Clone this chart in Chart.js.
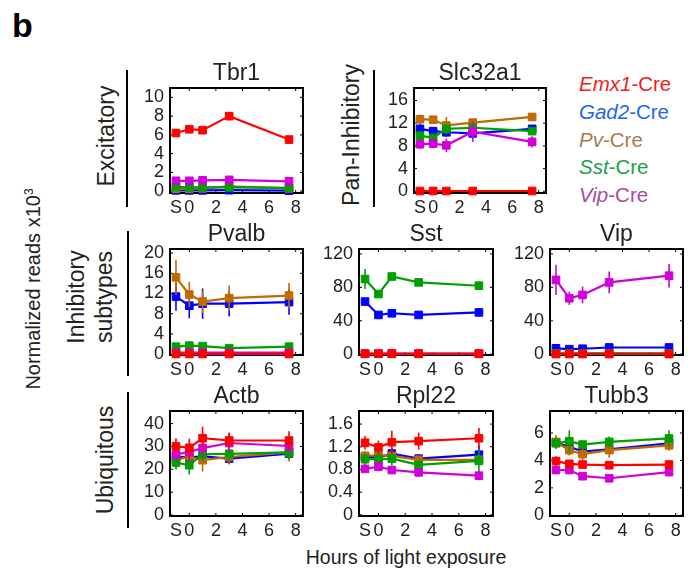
<!DOCTYPE html>
<html><head><meta charset="utf-8">
<script src="https://cdn.jsdelivr.net/npm/chart.js@4"></script>
<style>
body{margin:0;background:#fff;width:698px;height:577px;position:relative;overflow:hidden;font-family:"Liberation Sans",Arial,sans-serif;color:#222}
.p{position:absolute}
.t{position:absolute;white-space:nowrap;line-height:1}
.rot{position:absolute;transform:translate(-50%,-50%) rotate(-90deg);white-space:nowrap;line-height:1}
.bar{position:absolute;width:2px;background:#000}
.lg{position:absolute;left:579px;font-size:20.5px;line-height:1;white-space:nowrap;transform:translateY(-50%)}
</style></head><body>
<div class="t" style="left:12px;top:8px;font-size:34px;font-weight:bold;color:#000">b</div>

<div class="rot" style="left:106px;top:136px;font-size:23px">Excitatory</div>
<div class="bar" style="left:126px;top:70px;height:137px"></div>
<div class="rot" style="left:351px;top:135px;font-size:23px">Pan-Inhibitory</div>
<div class="bar" style="left:373px;top:70px;height:137px"></div>
<div class="rot" style="left:76px;top:297px;font-size:23px">Inhibitory</div>
<div class="rot" style="left:104px;top:297px;font-size:23px">subtypes</div>
<div class="bar" style="left:127px;top:231px;height:145px"></div>
<div class="rot" style="left:105px;top:460px;font-size:23px">Ubiquitous</div>
<div class="bar" style="left:127px;top:392px;height:136px"></div>
<div class="rot" style="left:33px;top:289px;font-size:20px">Normalized reads x10<sup style="font-size:12px">3</sup></div>
<div class="t" style="left:406px;top:558px;font-size:19.5px;transform:translate(-50%,-50%)">Hours of light exposure</div>

<div class="lg" style="top:84px;color:#f21c1c"><i>Emx1</i>-Cre</div>
<div class="lg" style="top:112px;color:#1f66f0"><i>Gad2</i>-Cre</div>
<div class="lg" style="top:140px;color:#a87a50"><i>Pv</i>-Cre</div>
<div class="lg" style="top:167px;color:#1ea04a"><i>Sst</i>-Cre</div>
<div class="lg" style="top:195px;color:#a84c9e"><i>Vip</i>-Cre</div>

<script>
// ---- data ----
const times = [-1, 0, 1, 3, 7.5]; // "S" plotted at -1
const xTickValues = [-1, 0, 2, 4, 6, 8];
const xTickLabels = ['S', '0', '2', '4', '6', '8'];
const lineNames = ['Emx1-Cre', 'Gad2-Cre', 'Pv-Cre', 'Sst-Cre', 'Vip-Cre'];
const lineColors = ['#ff0000', '#0000ff', '#c06a00', '#00a000', '#d000d8'];
const lineOrder = [0, 4, 3, 2, 1]; // lower = drawn on top

const tbr1Ticks = [0, 2, 4, 6, 8, 10];
const tbr1Values = [
  [6.2, 6.6, 6.5, 8.0, 5.5],
  [0.08, 0.08, 0.08, 0.1, 0.05],
  [0.25, 0.25, 0.3, 0.5, 0.3],
  [0.45, 0.4, 0.4, 0.4, 0.35],
  [1.1, 1.1, 1.15, 1.2, 1.05]];
const tbr1Errors = [
  [0.25, 0.2, 0.2, 0.45, 0.2],
  [0.05, 0.05, 0.05, 0.05, 0.05],
  [0.1, 0.1, 0.1, 0.1, 0.1],
  [0.1, 0.1, 0.1, 0.1, 0.1],
  [0.15, 0.15, 0.15, 0.15, 0.15]];

const slc32a1Ticks = [0, 4, 8, 12, 16];
const slc32a1Values = [
  [0.05, 0.05, 0.05, 0.05, 0.05],
  [11.0, 10.6, 10.4, 10.2, 11.0],
  [12.7, 12.6, 11.6, 12.1, 13.1],
  [9.8, 9.4, 11.0, 11.2, 10.6],
  [8.3, 8.4, 8.1, 10.5, 8.7]];
const slc32a1Errors = [
  [0.1, 0.1, 0.1, 0.1, 0.1],
  [0.8, 0.7, 0.8, 0.6, 0.6],
  [0.8, 0.6, 1.5, 0.6, 0.5],
  [0.8, 0.6, 0.8, 0.6, 0.7],
  [0.8, 0.8, 1.2, 1.8, 1.0]];

const pvalbTicks = [0, 4, 8, 12, 16, 20];
const pvalbValues = [
  [0.05, 0.05, 0.05, 0.05, 0.05],
  [11.4, 9.6, 10.0, 10.0, 10.3],
  [15.2, 11.8, 10.4, 11.1, 11.6],
  [1.5, 1.7, 1.6, 1.2, 1.5],
  [0.3, 0.3, 0.3, 0.3, 0.3]];
const pvalbErrors = [
  [0.05, 0.05, 0.05, 0.05, 0.05],
  [2.8, 2.5, 3.0, 2.5, 2.5],
  [3.5, 2.5, 2.2, 2.5, 2.5],
  [0.2, 0.2, 0.2, 0.2, 0.2],
  [0.1, 0.1, 0.1, 0.1, 0.1]];

const sstTicks = [0, 40, 80, 120];
const sstValues = [
  [0.5, 0.5, 0.5, 0.5, 0.5],
  [63, 47, 49, 47, 50],
  [0.5, 0.5, 0.5, 0.5, 0.5],
  [90, 72, 93, 86, 82],
  [0.8, 0.8, 0.8, 0.8, 0.8]];
const sstErrors = [
  [0.3, 0.3, 0.3, 0.3, 0.3],
  [4, 3, 3, 2, 3],
  [0.3, 0.3, 0.3, 0.3, 0.3],
  [12, 4, 4, 4, 5],
  [0.3, 0.3, 0.3, 0.3, 0.3]];

const vipTicks = [0, 40, 80, 120];
const vipValues = [
  [0.3, 0.3, 0.3, 0.3, 0.3],
  [7, 6, 6.5, 8, 8],
  [0.3, 0.3, 0.3, 0.3, 0.3],
  [1, 1, 1, 1, 1],
  [89, 67, 71, 86, 94]];
const vipErrors = [
  [0.3, 0.3, 0.3, 0.3, 0.3],
  [1, 1, 1, 1, 1],
  [0.3, 0.3, 0.3, 0.3, 0.3],
  [0.5, 0.5, 0.5, 0.5, 0.5],
  [18, 8, 10, 13, 14]];

const actbTicks = [0, 10, 20, 30, 40];
const actbValues = [
  [30.1, 29.4, 33.6, 32.6, 32.6],
  [25.5, 25.2, 25.7, 24.7, 26.9],
  [24.0, 25.7, 24.0, 25.4, 27.4],
  [23.0, 21.8, 26.6, 26.8, 27.4],
  [26.5, 27.6, 29.3, 31.5, 30.2]];
const actbErrors = [
  [3.5, 4, 5, 3.5, 4],
  [2.5, 2.5, 2.5, 2.5, 2.5],
  [3.5, 3, 5, 3, 4],
  [3, 4, 3, 3, 3],
  [3, 4, 4, 4, 3]];

const rpl22Ticks = [0, 0.4, 0.8, 1.2, 1.6];
const rpl22Values = [
  [1.27, 1.19, 1.28, 1.30, 1.35],
  [1.02, 1.01, 1.08, 0.99, 1.06],
  [1.04, 1.05, 1.04, 0.97, 0.97],
  [0.98, 0.98, 0.99, 0.88, 0.95],
  [0.81, 0.85, 0.79, 0.75, 0.69]];
const rpl22Errors = [
  [0.12, 0.12, 0.2, 0.15, 0.18],
  [0.08, 0.08, 0.1, 0.08, 0.16],
  [0.08, 0.08, 0.08, 0.08, 0.08],
  [0.1, 0.12, 0.12, 0.08, 0.2],
  [0.05, 0.08, 0.05, 0.08, 0.08]];

const tubb3Ticks = [0, 2, 4, 6];
const tubb3Values = [
  [3.95, 3.75, 3.7, 3.65, 3.7],
  [5.3, 5.0, 4.65, 4.8, 5.25],
  [5.35, 4.75, 4.45, 4.75, 5.1],
  [5.25, 5.4, 5.15, 5.35, 5.6],
  [3.3, 3.3, 2.85, 2.7, 3.15]];
const tubb3Errors = [
  [0.35, 0.2, 0.25, 0.2, 0.2],
  [0.3, 0.3, 0.3, 0.3, 0.3],
  [0.5, 0.4, 0.5, 0.55, 0.4],
  [0.4, 0.8, 0.3, 0.4, 0.6],
  [0.3, 0.3, 0.2, 0.2, 0.3]];

// ---- layout ----
const FONT = '"Liberation Sans", Arial, sans-serif';
const panels = [
  {title:'Tbr1', values:tbr1Values, errors:tbr1Errors, ticks:tbr1Ticks, min:-0.2, max:11, L:170, T:88, R:303, B:193},
  {title:'Slc32a1', values:slc32a1Values, errors:slc32a1Errors, ticks:slc32a1Ticks, min:-0.3, max:18.2, L:414, T:88, R:546, B:193},
  {title:'Pvalb', values:pvalbValues, errors:pvalbErrors, ticks:pvalbTicks, min:-0.15, max:20.8, L:170, T:249, R:303, B:355},
  {title:'Sst', values:sstValues, errors:sstErrors, ticks:sstTicks, min:-1, max:126, L:359, T:249, R:493, B:355},
  {title:'Vip', values:vipValues, errors:vipErrors, ticks:vipTicks, min:-1, max:126, L:550, T:249, R:683, B:355},
  {title:'Actb', values:actbValues, errors:actbErrors, ticks:actbTicks, min:-0.4, max:45.5, L:170, T:411, R:303, B:516},
  {title:'Rpl22', values:rpl22Values, errors:rpl22Errors, ticks:rpl22Ticks, min:-0.02, max:1.83, L:359, T:411, R:493, B:516},
  {title:'Tubb3', values:tubb3Values, errors:tubb3Errors, ticks:tubb3Ticks, min:-0.05, max:7.6, L:550, T:411, R:683, B:516}
];

const boxPlugin = {
  id: 'box',
  beforeDatasetsDraw(chart) {
    const {ctx, chartArea: a, scales: {x, y}} = chart;
    ctx.save();
    ctx.strokeStyle = '#000';
    ctx.lineWidth = 1;
    const tl = 3;
    x.ticks.forEach(t => {
      if (t.value < 0) return;
      const px = x.getPixelForValue(t.value);
      ctx.beginPath();
      ctx.moveTo(px, a.top); ctx.lineTo(px, a.top + tl);
      ctx.moveTo(px, a.bottom); ctx.lineTo(px, a.bottom - tl);
      ctx.stroke();
    });
    y.ticks.forEach(t => {
      const py = y.getPixelForValue(t.value);
      ctx.beginPath();
      ctx.moveTo(a.left, py); ctx.lineTo(a.left + tl, py);
      ctx.moveTo(a.right, py); ctx.lineTo(a.right - tl, py);
      ctx.stroke();
    });
    ctx.lineWidth = 2;
    ctx.strokeRect(a.left, a.top, a.right - a.left, a.bottom - a.top);
    ctx.restore();
  }
};

const errPlugin = {
  id: 'errbars',
  afterDatasetDraw(chart, args) {
    const ds = chart.data.datasets[args.index];
    if (!ds.errors) return;
    const {ctx, scales: {x, y}} = chart;
    ctx.save();
    ctx.strokeStyle = ds.borderColor;
    ctx.lineWidth = 1.6;
    ds.data.forEach((d, i) => {
      const e = ds.errors[i];
      const px = x.getPixelForValue(d.x);
      ctx.beginPath();
      ctx.moveTo(px, y.getPixelForValue(d.y - e));
      ctx.lineTo(px, y.getPixelForValue(d.y + e));
      ctx.stroke();
    });
    ctx.restore();
  }
};

const YW = 55, TH = 38, XH = 26, RP = 12;
panels.forEach(p => {
  const div = document.createElement('div');
  div.className = 'p';
  const W = p.R - p.L, H = p.B - p.T;
  div.style.left = (p.L - YW) + 'px';
  div.style.top = (p.T - TH) + 'px';
  div.style.width = (W + YW + RP) + 'px';
  div.style.height = (H + TH + XH) + 'px';
  const cv = document.createElement('canvas');
  div.appendChild(cv);
  document.body.appendChild(div);

  const datasets = p.values.map((vals, k) => ({
    label: lineNames[k],
    data: times.map((t, i) => ({x: t, y: vals[i]})),
    errors: p.errors[k],
    order: lineOrder[k],
    borderColor: lineColors[k],
    backgroundColor: lineColors[k],
    pointBackgroundColor: lineColors[k],
    pointBorderColor: lineColors[k],
    borderWidth: 2.2,
    pointStyle: 'rect',
    pointRadius: 5.4,
    pointBorderWidth: 1,
    tension: 0,
    clip: false
  }));

  new Chart(cv, {
    type: 'line',
    data: {datasets},
    options: {
      responsive: true, maintainAspectRatio: false, animation: false,
      layout: {padding: {left: 0, right: RP, top: 0, bottom: 0}},
      plugins: {
        legend: {display: false}, tooltip: {enabled: false},
        title: {display: true, fullSize: false, text: p.title, color: '#222',
          font: {family: FONT, size: 23, weight: 'normal', lineHeight: 1},
          padding: {top: 12, bottom: 3}}
      },
      scales: {
        x: {
          type: 'linear', min: -1.45, max: 8.55,
          grid: {display: false, drawTicks: false}, border: {display: false},
          afterBuildTicks: s => { s.ticks = xTickValues.map(v => ({value: v})); },
          afterFit: s => { s.height = XH; },
          ticks: {autoSkip: false, maxRotation: 0, minRotation: 0, padding: 4, color: '#222',
            font: {family: FONT, size: 18},
            callback: v => xTickLabels[xTickValues.indexOf(v)]}
        },
        y: {
          type: 'linear', min: p.min, max: p.max,
          grid: {display: false, drawTicks: false}, border: {display: false},
          afterBuildTicks: s => { s.ticks = p.ticks.map(v => ({value: v})); },
          afterFit: s => { s.width = YW; },
          ticks: {autoSkip: false, padding: 6, color: '#222', font: {family: FONT, size: 18}}
        }
      }
    },
    plugins: [boxPlugin, errPlugin]
  });
});
</script>
</body></html>
